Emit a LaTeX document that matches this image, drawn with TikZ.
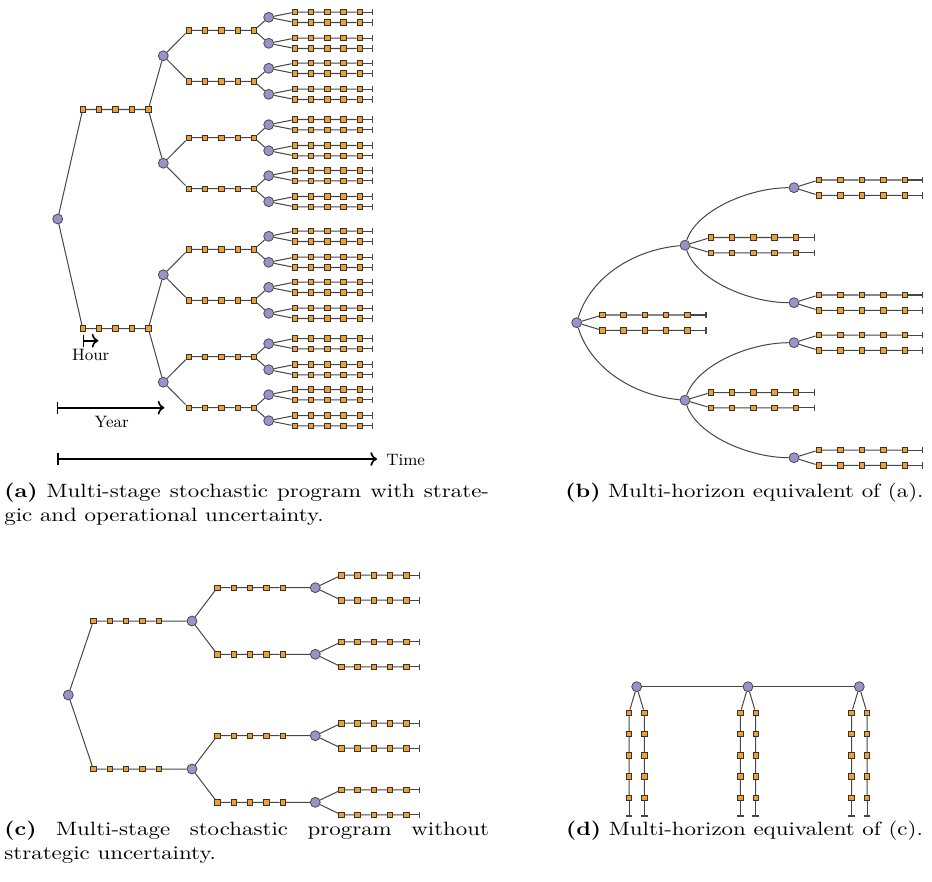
\documentclass[tikz,border=0pt]{standalone}
\usepackage{graphicx}
\usetikzlibrary{arrows.meta}
\definecolor{nodepurple}{HTML}{9C92C9}
\definecolor{nodeorange}{HTML}{F0A032}
\newcommand{\capbox}[1]{\scalebox{1.19}[1]{\parbox[t]{222pt}{\fontsize{10.5}{13.1}\selectfont\rightskip=0pt\parfillskip=0pt plus 1fil\noindent #1}}}
\newcommand{\capline}[1]{\scalebox{1.19}[1]{\fontsize{10.5}{13.1}\selectfont #1}}
\begin{document}
\begin{tikzpicture}[x=0.545pt,y=-0.545pt,
  circ/.style={circle,draw=black!70,fill=nodepurple,inner sep=0pt,minimum size=5.4pt,line width=0.45pt},
  sq/.style={rectangle,draw=black!80,fill=nodeorange,inner sep=0pt,minimum size=3pt,line width=0.4pt},
  ln/.style={draw=black!72,line width=0.55pt},
  endl/.style={ln,-{Bar[width=3.6pt,line width=0.8pt]}},
  tarrow/.style={line width=0.9pt,|->},
  lbl/.style={font=\small,inner sep=0pt},
  captxt/.style={inner sep=0pt,anchor=base west},
  captsingle/.style={inner sep=0pt,anchor=base}
]
\useasboundingbox (0,0) rectangle (932,881);

% ---------------- panel (a) ----------------
\node[circ] (a0) at (57.7,219) {};
\foreach \i in {1,2}{
  \pgfmathsetmacro\yA{219+(2*\i-3)*109.5}
  \foreach \k in {1,...,5}{\node[sq] (aA\i-\k) at ({82.7+16.4*(\k-1)},\yA) {};}
  \draw[ln] (a0) -- (aA\i-1) -- (aA\i-2) -- (aA\i-3) -- (aA\i-4) -- (aA\i-5);
  \foreach \j in {1,2}{
    \pgfmathsetmacro\yB{\yA+(2*\j-3)*53.7}
    \node[circ] (aB\i\j) at (163.3,\yB) {};
    \draw[ln] (aA\i-5) -- (aB\i\j);
    \foreach \l in {1,2}{
      \pgfmathsetmacro\yC{\yB+(2*\l-3)*25.5}
      \foreach \k in {1,...,5}{\node[sq] (aC\i\j\l-\k) at ({188.7+16.33*(\k-1)},\yC) {};}
      \draw[ln] (aB\i\j) -- (aC\i\j\l-1) -- (aC\i\j\l-2) -- (aC\i\j\l-3) -- (aC\i\j\l-4) -- (aC\i\j\l-5);
      \foreach \m in {1,2}{
        \pgfmathsetmacro\yD{\yC+(2*\m-3)*13}
        \node[circ] (aD\i\j\l\m) at (268.7,\yD) {};
        \draw[ln] (aC\i\j\l-5) -- (aD\i\j\l\m);
        \foreach \n in {1,2}{
          \pgfmathsetmacro\yE{\yD+(2*\n-3)*5.2}
          \foreach \k in {1,...,5}{\node[sq] (aE\i\j\l\m\n-\k) at ({294.7+16.25*(\k-1)},\yE) {};}
          \coordinate (aF\i\j\l\m\n) at (373.3,\yE);
          \draw[ln] (aD\i\j\l\m) -- (aE\i\j\l\m\n-1) -- (aE\i\j\l\m\n-2) -- (aE\i\j\l\m\n-3) -- (aE\i\j\l\m\n-4) -- (aE\i\j\l\m\n-5);
          \draw[endl] (aE\i\j\l\m\n-5) -- (aF\i\j\l\m\n);
        }
      }
    }
  }
}
\coordinate (hs) at (82.7,340.7);
\coordinate (he) at (98.3,340.7);
\draw[tarrow] (hs) -- (he);
\node[lbl] (hour) at (90.7,355) {Hour};
\coordinate (ys) at (56.7,407.7);
\coordinate (ye) at (164.3,407.7);
\draw[tarrow] (ys) -- (ye);
\node[lbl] (year) at (111.7,421.7) {Year};
\coordinate (ts) at (57,459);
\coordinate (te) at (377,459);
\draw[tarrow] (ts) -- (te);
\node[lbl,anchor=west] (time) at (386,460) {Time};

% ---------------- panel (b) ----------------
\node[circ] (b0) at (576.7,322.7) {};
\foreach \n in {1,2}{
  \pgfmathsetmacro\yE{322.7+(2*\n-3)*7.7}
  \foreach \k in {1,...,5}{\node[sq] (b0L\n-\k) at ({602.3+21.25*(\k-1)},\yE) {};}
  \coordinate (b0E\n) at (706.7,\yE);
  \draw[ln] (b0) -- (b0L\n-1) -- (b0L\n-2) -- (b0L\n-3) -- (b0L\n-4) -- (b0L\n-5);
  \draw[endl] (b0L\n-5) -- (b0E\n);
}
\node[circ] (bA1) at (685,245.2) {};
\node[circ] (bA2) at (685,400.2) {};
\draw[ln] (b0) .. controls +(13,-43) and +(-55,5) .. (bA1);
\draw[ln] (b0) .. controls +(13,43) and +(-55,-5) .. (bA2);
\foreach \i in {1,2}{
  \pgfmathsetmacro\yA{322.7+(2*\i-3)*77.5}
  \foreach \n in {1,2}{
    \pgfmathsetmacro\yE{\yA+(2*\n-3)*7.7}
    \foreach \k in {1,...,5}{\node[sq] (bAL\i\n-\k) at ({710.7+21.3*(\k-1)},\yE) {};}
    \coordinate (bAE\i\n) at (815,\yE);
    \draw[ln] (bA\i) -- (bAL\i\n-1) -- (bAL\i\n-2) -- (bAL\i\n-3) -- (bAL\i\n-4) -- (bAL\i\n-5);
    \draw[endl] (bAL\i\n-5) -- (bAE\i\n);
  }
  \foreach \j in {1,2}{
    \pgfmathsetmacro\yB{\yA+(2*\j-3)*57.5}
    \node[circ] (bB\i\j) at (794,\yB) {};
    \foreach \n in {1,2}{
      \pgfmathsetmacro\yE{\yB+(2*\n-3)*7.7}
      \foreach \k in {1,...,5}{\node[sq] (bBL\i\j\n-\k) at ({818.7+21.5*(\k-1)},\yE) {};}
      \coordinate (bBE\i\j\n) at (923.3,\yE);
      \draw[ln] (bB\i\j) -- (bBL\i\j\n-1) -- (bBL\i\j\n-2) -- (bBL\i\j\n-3) -- (bBL\i\j\n-4) -- (bBL\i\j\n-5);
      \draw[endl] (bBL\i\j\n-5) -- (bBE\i\j\n);
    }
  }
}
\draw[ln] (bA1) .. controls +(12,-35) and +(-45,0) .. (bB11);
\draw[ln] (bA1) .. controls +(12,35) and +(-45,0) .. (bB12);
\draw[ln] (bA2) .. controls +(12,-35) and +(-45,0) .. (bB21);
\draw[ln] (bA2) .. controls +(12,35) and +(-45,0) .. (bB22);

% ---------------- panel (c) ----------------
\node[circ] (c0) at (68.3,695) {};
\foreach \i in {1,2}{
  \pgfmathsetmacro\yA{695+(2*\i-3)*74}
  \foreach \k in {1,...,5}{\node[sq] (cA\i-\k) at ({93.3+16.35*(\k-1)},\yA) {};}
  \node[circ] (cB\i) at (192,\yA) {};
  \draw[ln] (c0) -- (cA\i-1) -- (cA\i-2) -- (cA\i-3) -- (cA\i-4) -- (cA\i-5) -- (cB\i);
  \foreach \j in {1,2}{
    \pgfmathsetmacro\yC{\yA+(2*\j-3)*33.3}
    \foreach \k in {1,...,5}{\node[sq] (cC\i\j-\k) at ({217.3+16.35*(\k-1)},\yC) {};}
    \node[circ] (cD\i\j) at (315.3,\yC) {};
    \draw[ln] (cB\i) -- (cC\i\j-1) -- (cC\i\j-2) -- (cC\i\j-3) -- (cC\i\j-4) -- (cC\i\j-5) -- (cD\i\j);
    \foreach \m in {1,2}{
      \pgfmathsetmacro\yE{\yC+(2*\m-3)*12.5}
      \foreach \k in {1,...,5}{\node[sq] (cE\i\j\m-\k) at ({341.3+16.25*(\k-1)},\yE) {};}
      \coordinate (cF\i\j\m) at (420,\yE);
      \draw[ln] (cD\i\j) -- (cE\i\j\m-1) -- (cE\i\j\m-2) -- (cE\i\j\m-3) -- (cE\i\j\m-4) -- (cE\i\j\m-5);
      \draw[endl] (cE\i\j\m-5) -- (cF\i\j\m);
    }
  }
}

% ---------------- panel (d) ----------------
\foreach \i/\cx in {1/636.7,2/748,3/859.3}{
  \node[circ] (d\i) at (\cx,686.7) {};
  \foreach \m in {1,2}{
    \pgfmathsetmacro\xx{\cx+(2*\m-3)*7.7}
    \foreach \k in {1,...,5}{\node[sq] (dS\i\m-\k) at (\xx,{712.7+21.3*(\k-1)}) {};}
    \coordinate (dE\i\m) at (\xx,816.7);
    \draw[ln] (d\i) -- (dS\i\m-1) -- (dS\i\m-2) -- (dS\i\m-3) -- (dS\i\m-4) -- (dS\i\m-5);
    \draw[endl] (dS\i\m-5) -- (dE\i\m);
  }
}
\draw[ln] (d1) -- (d2) -- (d3);

% ---------------- captions ----------------
\node[captxt] (capa) at (4,497) {\capbox{\textbf{(a)} Multi-stage stochastic program with strate-\linebreak gic and operational uncertainty.}};
\node[captsingle] (capb) at (744.5,497) {\capline{\textbf{(b)} Multi-horizon equivalent of (a).}};
\node[captxt] (capc) at (4,835) {\capbox{\textbf{(c)} Multi-stage stochastic program without\linebreak strategic uncertainty.}};
\node[captsingle] (capd) at (744.5,835) {\capline{\textbf{(d)} Multi-horizon equivalent of (c).}};
\end{tikzpicture}
\end{document}
